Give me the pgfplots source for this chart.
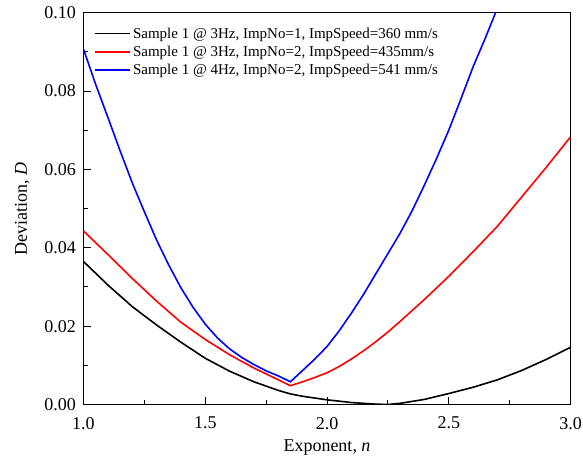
\documentclass[border=0pt]{standalone}
\usepackage{pgfplots}
\pgfplotsset{compat=1.18}
\usepackage{fontspec}
\setmainfont{Liberation Serif}
\begin{document}
\begin{tikzpicture}
\useasboundingbox (-83.5pt,-54.5pt) rectangle (499.5pt,404.5pt);
\begin{axis}[
  at={(0pt,0pt)}, anchor=south west,
  scale only axis, width=487pt, height=391.8pt,
  xmin=1, xmax=3, ymin=0, ymax=0.1,
  xtick={1,1.5,2,2.5,3}, minor x tick num=1,
  ytick={0,0.02,0.04,0.06,0.08,0.1}, minor y tick num=1,
  xtick pos=bottom, ytick pos=left, tick align=inside,
  major tick length=8pt, minor tick length=5pt,
  every tick/.style={black, line width=1pt},
  axis line style={line width=1.3pt},
  /pgf/number format/assume math mode=true,
  xticklabel style={yshift=-9pt, /pgf/number format/.cd, fixed, fixed zerofill, precision=1},
  yticklabel style={xshift=-4pt, /pgf/number format/.cd, fixed, fixed zerofill, precision=2},
  scaled y ticks=false,
  tick label style={font=\fontsize{18}{20}\selectfont},
  label style={font=\fontsize{18}{20}\selectfont},
  xlabel={Exponent, \textit{n}},
  ylabel={Deviation, \textit{D}},
  xlabel style={yshift=-4pt},
  ylabel style={yshift=8pt},
  legend style={draw=none, fill=none, at={(0.02,0.97)}, anchor=north west,
    font=\fontsize{15}{16}\selectfont, row sep=2.4pt, inner sep=1pt},
  legend cell align=left,
  legend image code/.code={\draw[#1, line width=1.6pt] (0pt,0pt) -- (35pt,0pt);},
]
\addplot[color=black, line width=1.6pt] coordinates {
(1.0,0.0365) (1.1,0.0305) (1.2,0.0250) (1.3,0.0203) (1.4,0.0159) (1.5,0.0118)
(1.6,0.0085) (1.7,0.0058) (1.8,0.0036) (1.85,0.0027) (1.9,0.0021) (2.0,0.0012)
(2.1,0.0005) (2.2,0.0001) (2.25,0.0000) (2.3,0.0003) (2.4,0.0013) (2.5,0.0028)
(2.6,0.0044) (2.7,0.0063) (2.8,0.0087) (2.9,0.0115) (3.0,0.0146)
};
\addlegendentry{Sample 1 @ 3Hz, ImpNo=1, ImpSpeed=360 mm/s}
\addplot[color=red, line width=1.6pt] coordinates {
(1.0,0.0443) (1.1,0.0383) (1.2,0.0322) (1.3,0.0264) (1.4,0.0210) (1.5,0.0166)
(1.6,0.0127) (1.7,0.0093) (1.8,0.0063) (1.85,0.0048) (1.9,0.0058) (1.95,0.0069) (2.0,0.0081)
(2.05,0.0097) (2.1,0.0116) (2.15,0.0137) (2.2,0.0160) (2.25,0.0185) (2.3,0.0212) (2.35,0.0240)
(2.4,0.0268) (2.5,0.0327) (2.6,0.0390)
(2.7,0.0455) (2.8,0.0530) (2.9,0.0605) (3.0,0.0683)
};
\addlegendentry{Sample 1 @ 3Hz, ImpNo=2, ImpSpeed=435mm/s}
\addplot[color=blue, line width=1.6pt] coordinates {
(1.0,0.0907) (1.05,0.0817) (1.1,0.0733) (1.15,0.0648) (1.2,0.0566) (1.25,0.0492)
(1.3,0.0420) (1.35,0.0356) (1.4,0.0298) (1.45,0.0248) (1.5,0.0205) (1.55,0.0170)
(1.6,0.0142) (1.65,0.0120) (1.7,0.0102) (1.75,0.0086) (1.8,0.0073) (1.85,0.0058)
(1.9,0.0087) (1.95,0.0116) (2.0,0.0148) (2.05,0.0188) (2.1,0.0233) (2.15,0.0281)
(2.2,0.0333) (2.25,0.0385) (2.3,0.0437) (2.35,0.0495) (2.4,0.0560) (2.45,0.0628)
(2.5,0.0700) (2.55,0.0780) (2.6,0.0862) (2.65,0.0935) (2.7,0.1012) (2.75,0.1095)
};
\addlegendentry{Sample 1 @ 4Hz, ImpNo=2, ImpSpeed=541 mm/s}
\end{axis}
\end{tikzpicture}
\end{document}
